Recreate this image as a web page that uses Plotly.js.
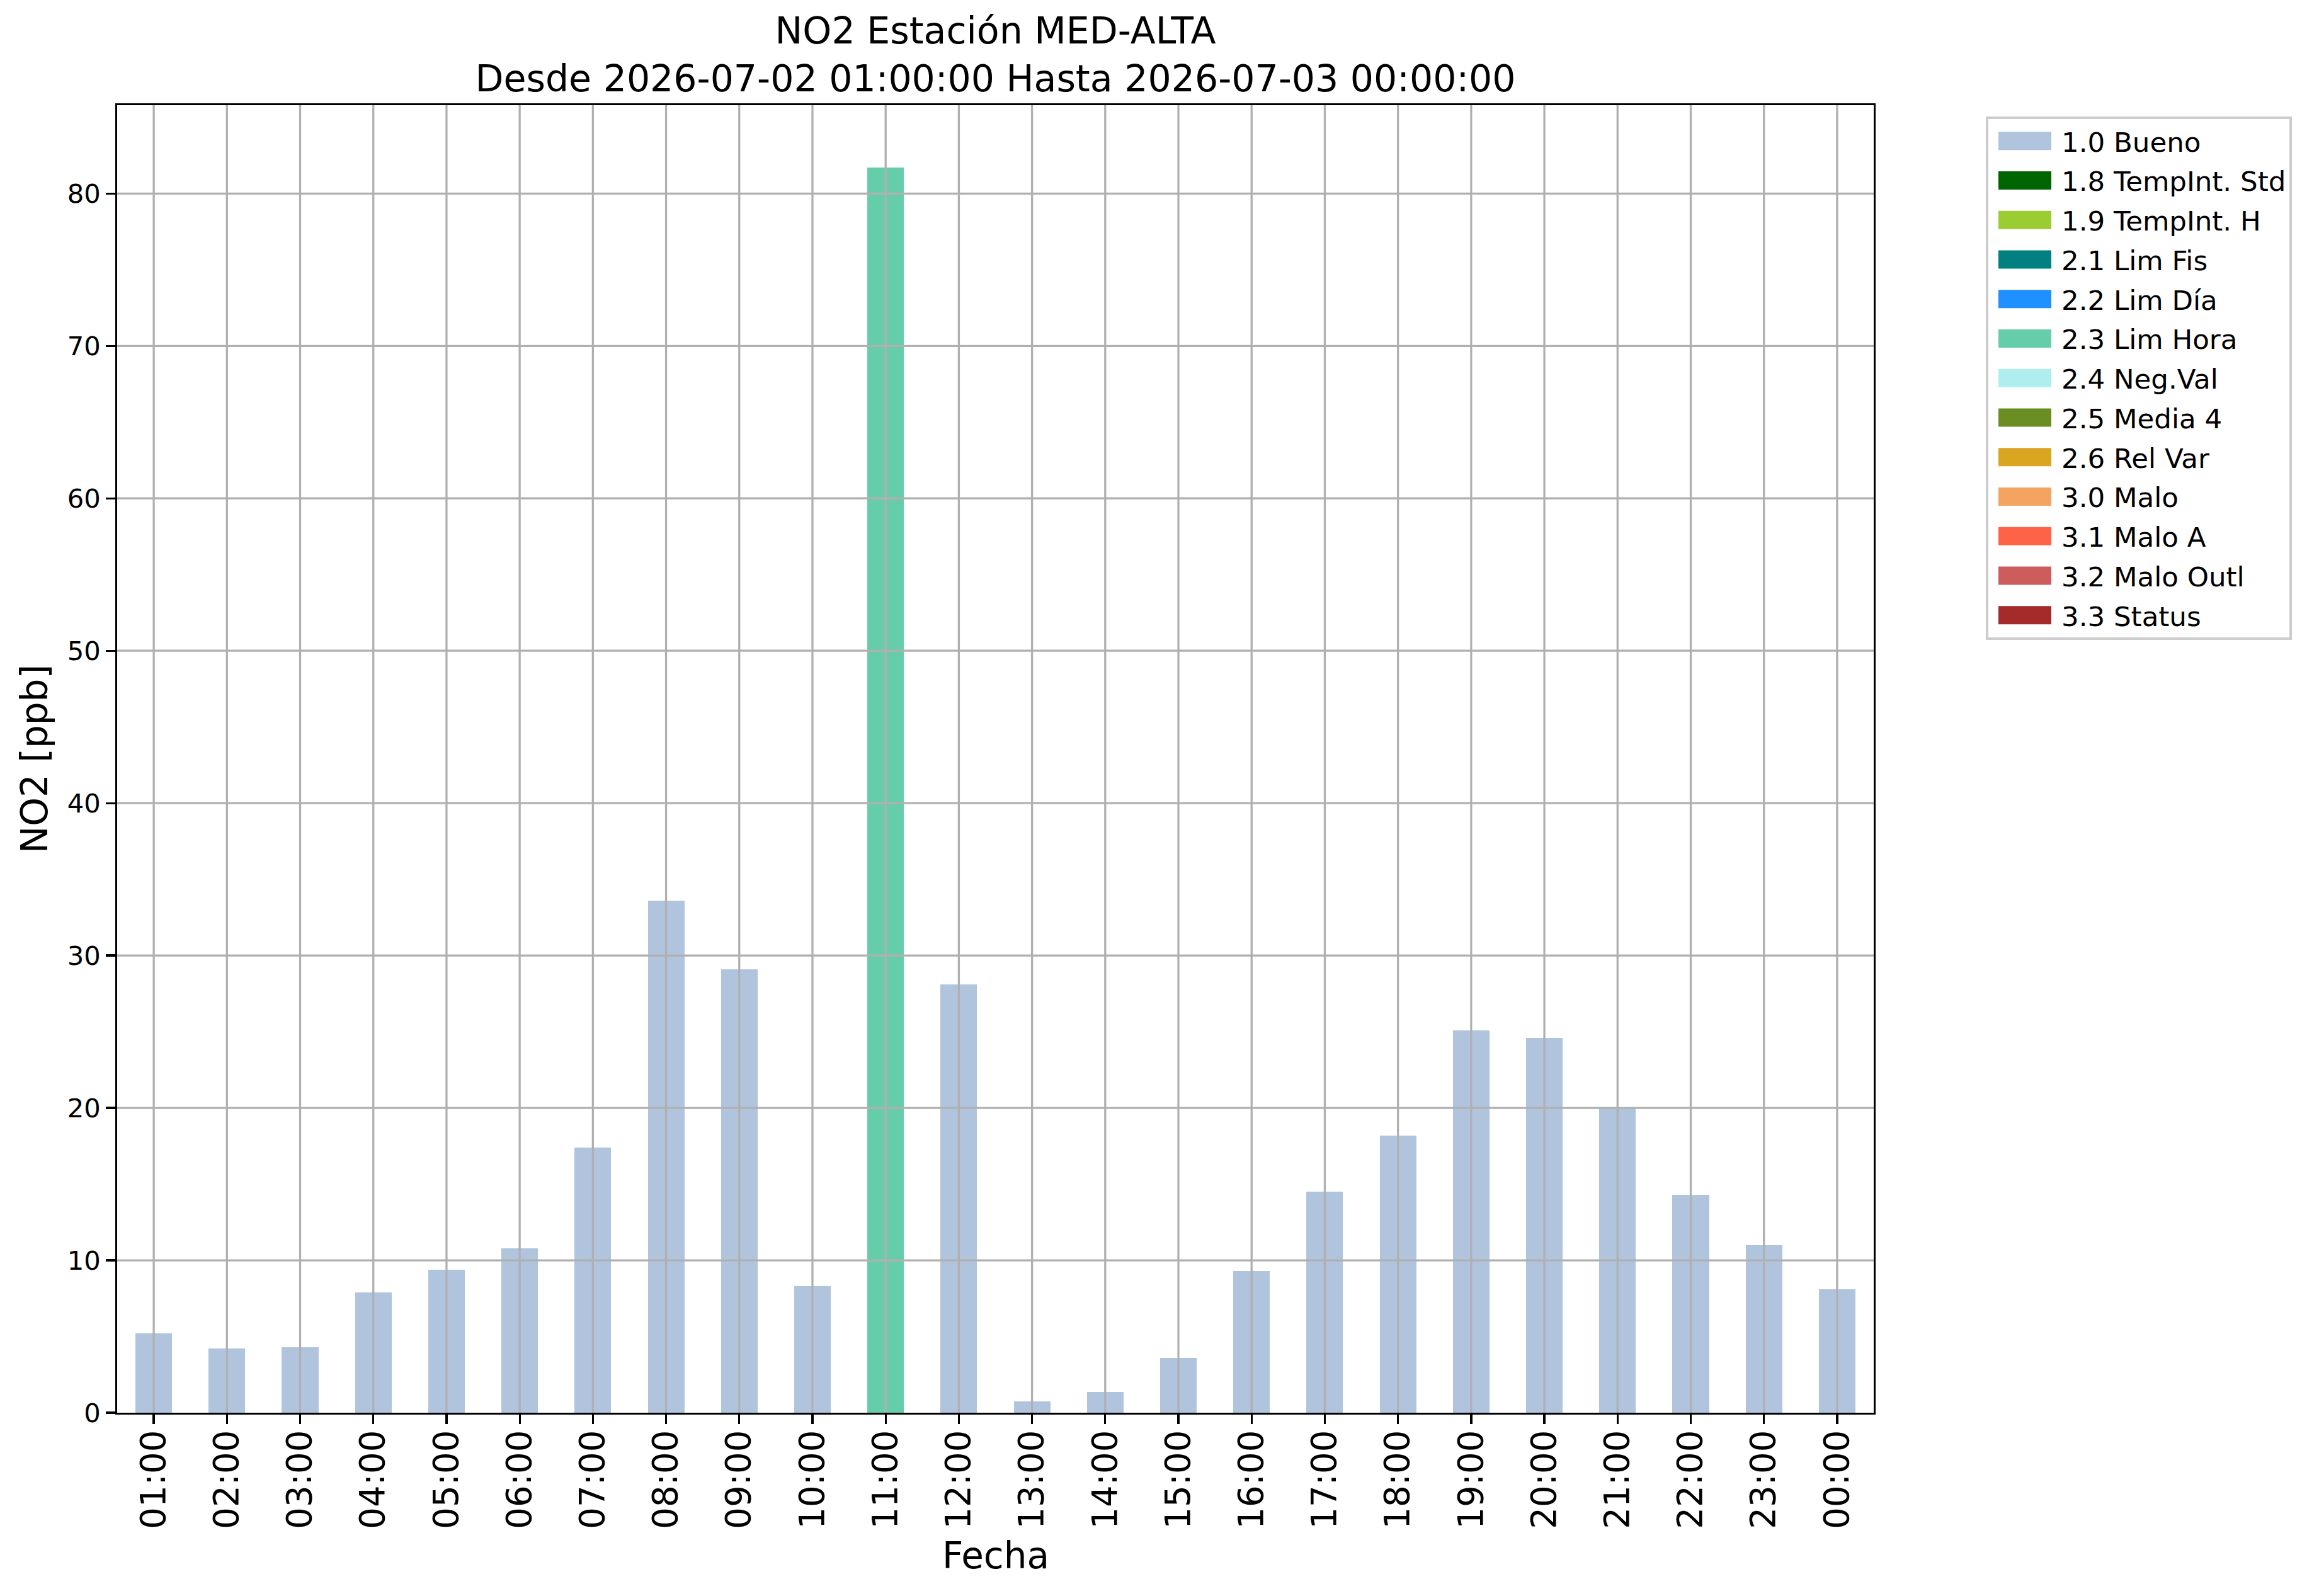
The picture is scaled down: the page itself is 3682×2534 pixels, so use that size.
<!DOCTYPE html>
<html>
<head>
<meta charset="utf-8">
<script src="https://cdn.plot.ly/plotly-3.0.1.min.js"></script>
<style>
  html, body { margin: 0; padding: 0; background: #ffffff; }
  #chart { width: 3682px; height: 2534px; }
</style>
</head>
<body>
<div id="chart"></div>
<script>
// ---- data ----
const hours = ['01:00','02:00','03:00','04:00','05:00','06:00','07:00','08:00','09:00','10:00','11:00','12:00',
               '13:00','14:00','15:00','16:00','17:00','18:00','19:00','20:00','21:00','22:00','23:00','00:00'];
const no2 = [5.2, 4.2, 4.3, 7.9, 9.4, 10.8, 17.4, 33.6, 29.1, 8.3, 81.7, 28.1,
             0.75, 1.35, 3.6, 9.3, 14.5, 18.2, 25.1, 24.6, 20.0, 14.3, 11.0, 8.1];
const flag = ['1.0','1.0','1.0','1.0','1.0','1.0','1.0','1.0','1.0','1.0','2.3','1.0',
              '1.0','1.0','1.0','1.0','1.0','1.0','1.0','1.0','1.0','1.0','1.0','1.0'];
const flagCodes = ['1.0','1.8','1.9','2.1','2.2','2.3','2.4','2.5','2.6','3.0','3.1','3.2','3.3'];
const flagNames = ['1.0 Bueno','1.8 TempInt. Std','1.9 TempInt. H','2.1 Lim Fis','2.2 Lim Día','2.3 Lim Hora',
                   '2.4 Neg.Val','2.5 Media 4','2.6 Rel Var','3.0 Malo','3.1 Malo A','3.2 Malo Outl','3.3 Status'];
const flagColors = ['#B0C4DE','#006400','#9ACD32','#008080','#1E90FF','#66CDAA',
                    '#AFEEEE','#6B8E23','#DAA520','#F4A460','#FF6347','#CD5C5C','#A52A2A'];
const yTicks = [0, 10, 20, 30, 40, 50, 60, 70, 80];
const titleText = 'NO2 Estación MED-ALTA<br>Desde 2026-07-02 01:00:00 Hasta 2026-07-03 00:00:00';
const xTitle = 'Fecha';
const yTitle = 'NO2 [ppb]';

// ---- geometry (px) ----
const W = 3682, H = 2534;
const L = 185.5, R = 2975, T = 167, B = 2243;
const FONT = 'DejaVu Sans, Noto Sans, sans-serif';
const LW = 3.3;

const traces = flagCodes.map((code, k) => ({
  type: 'bar',
  name: flagNames[k],
  legendgroup: 'g' + k,
  x: hours,
  y: no2.map((v, i) => flag[i] === code ? v : null),
  width: 0.5,
  marker: { color: flagColors[k], line: { width: 0 } },
  hoverinfo: 'skip'
}));

const shapes = [];
hours.forEach(h => shapes.push({
  type: 'line', xref: 'x', yref: 'paper', x0: h, x1: h, y0: 0, y1: 1,
  line: { color: '#b0b0b0', width: LW }, layer: 'above'
}));
yTicks.filter(v => v > 0).forEach(v => shapes.push({
  type: 'line', xref: 'paper', yref: 'y', x0: 0, x1: 1, y0: v, y1: v,
  line: { color: '#b0b0b0', width: LW }, layer: 'above'
}));

const layout = {
  width: W, height: H,
  margin: { l: L, r: W - R, t: T, b: H - B, pad: 0, autoexpand: false },
  paper_bgcolor: '#ffffff', plot_bgcolor: '#ffffff',
  font: { family: FONT, color: '#000000', size: 42 },
  barmode: 'stack',
  showlegend: true,
  title: {
    text: titleText,
    font: { family: FONT, size: 58.5, color: '#000000' },
    x: 0.5, xref: 'paper', xanchor: 'center',
    y: 1, yref: 'paper', yanchor: 'bottom',
    pad: { b: 98 }
  },
  xaxis: {
    type: 'category',
    range: [-0.5, 23.5],
    showgrid: false, zeroline: false,
    showline: true, mirror: true, linecolor: '#000000', linewidth: LW,
    ticks: 'outside', ticklen: 14.6, tickwidth: LW, tickcolor: '#000000',
    tickangle: -90,
    ticklabelstandoff: -12,
    tickfont: { family: FONT, size: 54.5, color: '#000000' },
    layer: 'above traces',
    automargin: false
  },
  yaxis: {
    range: [0, 85.8],
    tickvals: yTicks,
    ticktext: yTicks.map(String),
    showgrid: false, zeroline: false,
    showline: true, mirror: true, linecolor: '#000000', linewidth: LW,
    ticks: 'outside', ticklen: 14.6, tickwidth: LW, tickcolor: '#000000',
    tickfont: { family: FONT, size: 41.7, color: '#000000' },
    title: { text: yTitle, font: { family: FONT, size: 58, color: '#000000' }, standoff: 13 },
    layer: 'above traces',
    automargin: false
  },
  annotations: [{
    text: xTitle, xref: 'paper', yref: 'paper', x: 0.5, y: (B - 2470) / (B - T),
    xanchor: 'center', yanchor: 'middle', showarrow: false,
    font: { family: FONT, size: 58, color: '#000000' }
  }],
  legend: {
    x: (3153 - L) / (R - L), xref: 'paper', xanchor: 'left',
    y: (B - 185) / (B - T), yref: 'paper', yanchor: 'top',
    bgcolor: '#ffffff', bordercolor: '#cccccc', borderwidth: 4,
    font: { family: FONT, size: 43.5, color: '#000000' },
    traceorder: 'grouped',
    tracegroupgap: 3.2,
    itemwidth: 106,
    itemclick: false, itemdoubleclick: false
  },
  shapes: shapes
};

function fixSwatches() {
  document.querySelectorAll('#chart .legend .legendpoints path').forEach(p => {
    p.setAttribute('d', 'M-42,-14.5H42V14.5H-42Z');
  });
}

Plotly.newPlot('chart', traces, layout, { staticPlot: true, displayModeBar: false }).then(gd => {
  fixSwatches();
  gd.on && gd.on('plotly_afterplot', fixSwatches);
  setTimeout(fixSwatches, 50);
  setTimeout(fixSwatches, 300);
});
</script>
</body>
</html>
